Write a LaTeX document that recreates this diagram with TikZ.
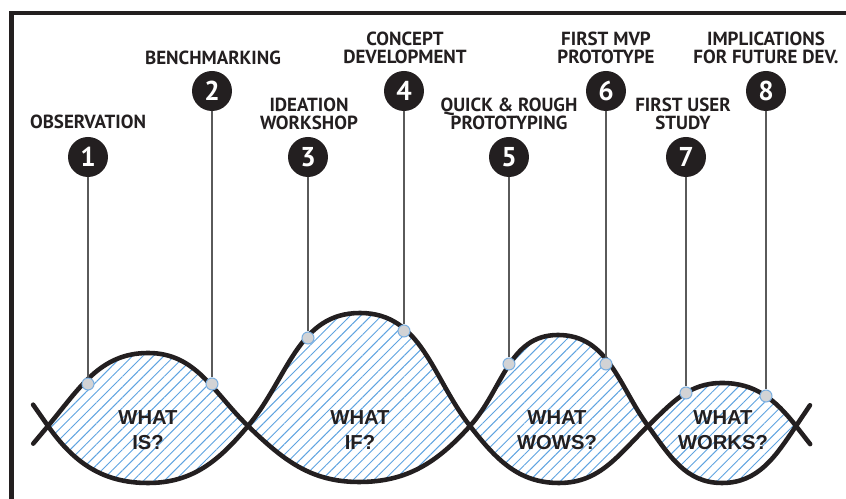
\documentclass[tikz,border=0pt]{standalone}
\usepackage{fontspec}
\setmainfont{PT Sans}
\newfontfamily\lobefont{Liberation Sans}
\usetikzlibrary{patterns.meta}
\definecolor{ink}{HTML}{231F20}
\definecolor{hatch}{HTML}{5FA3E0}
\definecolor{dotfill}{HTML}{D2D3D5}
\definecolor{dotedge}{HTML}{7BAFE0}
\definecolor{stem}{HTML}{5A5A5A}
\begin{document}
\begin{tikzpicture}[x=0.02cm, y=0.02cm,
  wave/.style={line width=2.6pt, draw=ink, line join=round, line cap=round},
  lobe/.style={wave, pattern={Lines[angle=45, distance=4.2pt, line width=0.55pt]}, pattern color=hatch},
  marker/.style={circle, fill=ink, text=white, minimum size=0.8cm, inner sep=0pt, font=\bfseries\fontsize{15.5}{15.5}\selectfont},
  stage/.style={align=center, text=ink, inner sep=0pt, font=\bfseries\fontsize{10.8}{10.2}\selectfont},
  question/.style={align=center, text=ink, inner sep=0pt, font=\lobefont\bfseries\fontsize{11.5}{14}\selectfont},
  hitpoint/.style={circle, fill=dotfill, draw=dotedge, line width=0.6pt, minimum size=0.24cm, inner sep=0pt},
  stemline/.style={draw=stem, line width=0.6pt}]
  \useasboundingbox (0,0) rectangle (846,499);
  % frame
  \draw[line width=2.6pt, ink] (11.5,0) |- (846,486);
  % crossings of the two waves
  \coordinate (c0) at (48,73);
  \coordinate (c1) at (248,73);
  \coordinate (c2) at (470,73);
  \coordinate (c3) at (648,73);
  \coordinate (c4) at (796,73);
  % the four lobes
  \draw[lobe] (c0) to[out=50,in=180] (148,146) to[out=0,in=136] (c1)
    to[out=230,in=0] (148,16) to[out=180,in=-55] (c0) -- cycle;
  \draw[lobe] (c1) to[out=50,in=180] (360,186) to[out=0,in=128] (c2)
    to[out=228,in=0] (359,17) to[out=180,in=-44] (c1) -- cycle;
  \draw[lobe] (c2) to[out=48,in=180] (558,164) to[out=0,in=126] (c3)
    to[out=224,in=0] (559,16) to[out=180,in=-52] (c2) -- cycle;
  \draw[lobe] (c3) to[out=44,in=180] (722,116) to[out=0,in=128] (c4)
    to[out=236,in=0] (722,16) to[out=180,in=-54] (c3) -- cycle;
  % loose ends
  \draw[wave] (c0) -- +(230:23) (c0) -- +(125:26);
  \draw[wave] (c4) -- +(56:25) (c4) -- +(-52:23);
  \node[question] (q1) at (148,69) {WHAT\\IS?};
  \node[question] (q2) at (360,69) {WHAT\\IF?};
  \node[question] (q3) at (557,69) {WHAT\\WOWS?};
  \node[question] (q4) at (723,69) {WHAT\\WORKS?};
  % steps
  \node[marker] (n1) at (88,342) {1};
  \node[marker] (n2) at (212,408) {2};
  \node[marker] (n3) at (308,342) {3};
  \node[marker] (n4) at (404,408) {4};
  \node[marker] (n5) at (509,342) {5};
  \node[marker] (n6) at (606,408) {6};
  \node[marker] (n7) at (686,342) {7};
  \node[marker] (n8) at (766,408) {8};
  \node[hitpoint] (d1) at (88,115) {};
  \node[hitpoint] (d2) at (212,115) {};
  \node[hitpoint] (d3) at (308,161) {};
  \node[hitpoint] (d4) at (404,168) {};
  \node[hitpoint] (d5) at (509,135) {};
  \node[hitpoint] (d6) at (606,135) {};
  \node[hitpoint] (d7) at (686,106) {};
  \node[hitpoint] (d8) at (766,103) {};
  \draw[stemline] (n1) -- (d1);
  \draw[stemline] (n2) -- (d2);
  \draw[stemline] (n3) -- (d3);
  \draw[stemline] (n4) -- (d4);
  \draw[stemline] (n5) -- (d5);
  \draw[stemline] (n6) -- (d6);
  \draw[stemline] (n7) -- (d7);
  \draw[stemline] (n8) -- (d8);
  \node[stage] (l1) at (88,377) {OBSERVATION};
  \node[stage] (l2) at (213,441) {BENCHMARKING};
  \node[stage] (l3) at (309,385) {IDEATION\\WORKSHOP};
  \node[stage] (l4) at (405,451) {CONCEPT\\DEVELOPMENT};
  \node[stage] (l5) at (509,385) {QUICK \& ROUGH\\PROTOTYPING};
  \node[stage] (l6) at (606,451) {FIRST MVP\\PROTOTYPE};
  \node[stage] (l7) at (683,385) {FIRST USER\\STUDY};
  \node[stage] (l8) at (766,451) {IMPLICATIONS\\FOR FUTURE DEV.};
\end{tikzpicture}
\end{document}
